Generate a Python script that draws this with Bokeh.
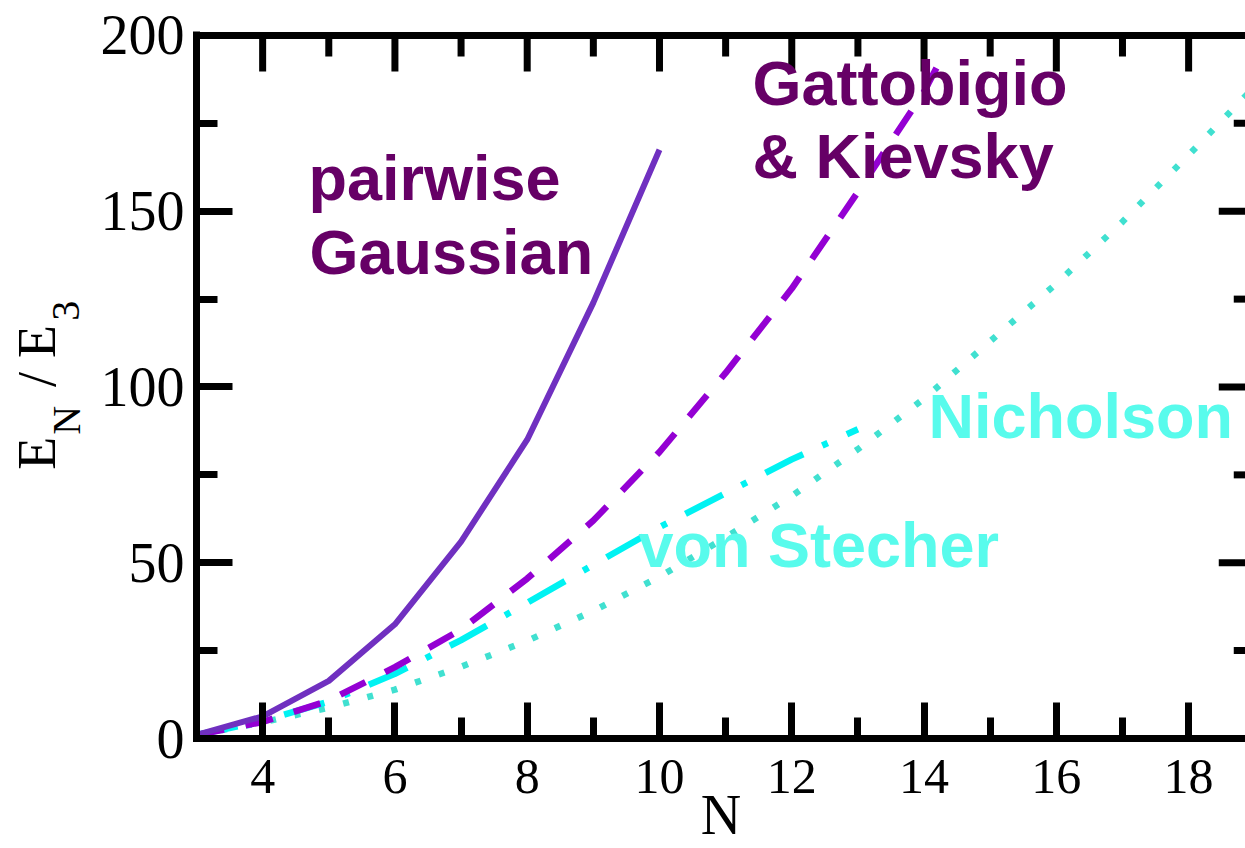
import math

from bokeh.embed import file_html
from bokeh.layouts import row
from bokeh.models import Label, Range1d, SingleIntervalTicker
from bokeh.plotting import figure
from bokeh.resources import INLINE

# ---------------------------------------------------------------- data
# E_N / E_3 as a function of the number of bosons N
n_pairwise = [3, 4, 5, 6, 7, 8, 9, 10]
e_pairwise = [1.0, 6.3, 16.4, 32.5, 56.0, 85.0, 124.0, 167.5]

n_gattobigio = [3, 4, 5, 6, 7, 8, 9, 10, 11, 12, 13, 14, 14.32]
e_gattobigio = [1.0, 4.7, 10.8, 20.3, 31.0, 45.5, 62.0, 81.5, 104.0, 128.0, 155.5, 184.0, 195.5]

n_stecher = [3, 4, 5, 6, 7, 8, 9, 10, 11, 12, 13]
e_stecher = [1.0, 5.0, 10.5, 18.4, 28.0, 38.6, 49.4, 60.1, 69.8, 79.4, 88.0]

n_nicholson = [3, 4, 5, 6, 7, 8, 9, 10, 11, 12, 13, 14, 15, 16, 17, 18, 19]
e_nicholson = [1.0, 4.6, 8.8, 13.9, 20.4, 27.8, 36.3, 46.0, 57.2, 69.0, 82.3,
               96.7, 113.0, 129.4, 147.0, 166.0, 185.5]

x_tick_step = 2
y_tick_step = 50
x_major_ticks = [4, 6, 8, 10, 12, 14, 16, 18]
x_minor_ticks = [5, 7, 9, 11, 13, 15, 17]
y_major_ticks = [50, 100, 150]
y_minor_ticks = [25, 75, 125, 175]

# ---------------------------------------------------------------- layout
W, H = 1245, 848
STRIP_W = 94                      # strip holding the vertical axis title
PLOT_W = W - STRIP_W
LEFT = 196 - STRIP_W              # border inside the main figure -> frame starts at x = 196
TOP, BOTTOM = 31, 108
N_MIN, N_AXIS_END, N_VIEW_END = 3, 19, 18.86
E_MIN, E_MAX = 0, 200
PX_PER_E = 705 / (E_MAX - E_MIN)
E_VIEW_TOP = E_MIN + (H - TOP - BOTTOM) / PX_PER_E
PX_PER_N = (PLOT_W - LEFT) / (N_VIEW_END - N_MIN)
FRAME_LEFT = STRIP_W + LEFT
FRAME_BOTTOM = H - BOTTOM

# Bokeh puts an "alphabetic" label baseline this far (in em) below its anchor
BASELINE_SHIFT = 0.35


def nx(px):
    """canvas x pixel -> N"""
    return N_MIN + (px - FRAME_LEFT) / PX_PER_N


def ey(py):
    """canvas y pixel -> E_N/E_3"""
    return E_MIN + (FRAME_BOTTOM - py) / PX_PER_E


AXIS_W = 7
MAJOR_IN, MINOR_IN = 36, 21

PAIRWISE_COLOR = "#7030c0"
GATTOBIGIO_COLOR = "#9400d3"
STECHER_COLOR = "#00f2f2"
NICHOLSON_COLOR = "#40e0d0"
LABEL_PURPLE = "#660066"
LABEL_CYAN = "#58fbec"

y_range = Range1d(E_MIN, E_VIEW_TOP)

p = figure(
    width=PLOT_W, height=H,
    x_range=Range1d(N_MIN, N_VIEW_END), y_range=y_range,
    output_backend="svg", toolbar_location=None,
    min_border_left=LEFT, min_border_right=0, min_border_top=TOP, min_border_bottom=BOTTOM,
    background_fill_color="white", border_fill_color="white", outline_line_color=None,
)
p.grid.visible = False


def style_axis(ax, label_size):
    ax.axis_line_width = AXIS_W
    ax.axis_line_color = "black"
    ax.major_tick_line_width = AXIS_W
    ax.minor_tick_line_width = AXIS_W
    ax.major_tick_in = MAJOR_IN
    ax.major_tick_out = 0
    ax.minor_tick_in = MINOR_IN
    ax.minor_tick_out = 0
    ax.major_label_text_font = "Liberation Serif"
    ax.major_label_text_font_size = label_size
    ax.major_label_text_color = "black"


xax = p.xaxis[0]
xax.ticker = SingleIntervalTicker(interval=x_tick_step, num_minor_ticks=2)
style_axis(xax, "50px")
xax.axis_line_cap = "square"
xax.major_label_standoff = 21
xax.axis_label = "N"
xax.axis_label_text_font = "Liberation Serif"
xax.axis_label_text_font_size = "56px"
xax.axis_label_text_font_style = "normal"
xax.axis_label_text_color = "black"
xax.axis_label_standoff = -12

yax = p.yaxis[0]
yax.ticker = SingleIntervalTicker(interval=y_tick_step, num_minor_ticks=2)
style_axis(yax, "56px")
yax.major_label_standoff = 12

# top edge: line plus inward ticks
p.segment(x0=[N_MIN], x1=[N_AXIS_END], y0=[E_MAX], y1=[E_MAX], line_color="black", line_width=AXIS_W)
p.segment(x0=x_major_ticks, x1=x_major_ticks, y0=[E_MAX] * len(x_major_ticks),
          y1=[E_MAX - MAJOR_IN / PX_PER_E] * len(x_major_ticks), line_color="black", line_width=AXIS_W)
p.segment(x0=x_minor_ticks, x1=x_minor_ticks, y0=[E_MAX] * len(x_minor_ticks),
          y1=[E_MAX - MINOR_IN / PX_PER_E] * len(x_minor_ticks), line_color="black", line_width=AXIS_W)

# right edge: inward ticks (its line sits just past the visible edge)
p.segment(x0=[N_AXIS_END - MAJOR_IN / PX_PER_N] * len(y_major_ticks), x1=[N_AXIS_END] * len(y_major_ticks),
          y0=y_major_ticks, y1=y_major_ticks, line_color="black", line_width=AXIS_W)
p.segment(x0=[N_AXIS_END - MINOR_IN / PX_PER_N] * len(y_minor_ticks), x1=[N_AXIS_END] * len(y_minor_ticks),
          y0=y_minor_ticks, y1=y_minor_ticks, line_color="black", line_width=AXIS_W)

# ---------------------------------------------------------------- curves
p.line(n_nicholson, e_nicholson, line_color=NICHOLSON_COLOR, line_width=6.5, line_dash="6 19")
p.line(n_stecher, e_stecher, line_color=STECHER_COLOR, line_width=6.5, line_dash="42 21 6 21")
p.line(n_gattobigio, e_gattobigio, line_color=GATTOBIGIO_COLOR, line_width=6.5, line_dash="28 22")
p.line(n_pairwise, e_pairwise, line_color=PAIRWISE_COLOR, line_width=6, line_join="round")


# ---------------------------------------------------------------- curve labels
def sans_label(text, px, baseline_py, color, size=63):
    p.add_layout(Label(
        x=nx(px), y=ey(baseline_py - BASELINE_SHIFT * size), text=text, text_color=color,
        text_font="Liberation Sans", text_font_style="bold", text_font_size=f"{size}px",
        text_align="left", text_baseline="alphabetic",
    ))


sans_label("pairwise", 308, 200, LABEL_PURPLE)
sans_label("Gaussian", 309, 274, LABEL_PURPLE)
sans_label("Gattobigio", 752, 105, LABEL_PURPLE)
sans_label("& Kievsky", 752, 178, LABEL_PURPLE)
sans_label("Nicholson", 928, 439, LABEL_CYAN)
sans_label("von Stecher", 638, 568, LABEL_CYAN)

# ---------------------------------------------------------------- vertical axis title E_N / E_3
# the strip shares the vertical scale of the main plot, so its labels sit in E units
strip = figure(
    width=STRIP_W, height=H, x_range=Range1d(0, STRIP_W), y_range=y_range,
    output_backend="svg", toolbar_location=None,
    min_border_left=0, min_border_right=0, min_border_top=TOP, min_border_bottom=BOTTOM,
    x_axis_type=None, y_axis_type=None,
    background_fill_color="white", border_fill_color="white", outline_line_color=None,
)
strip.grid.visible = False


def title_piece(text, center_px, center_py, size):
    # text reads bottom-to-top, centred on the given canvas point
    strip.add_layout(Label(
        x=center_px, y=ey(center_py), text=text, text_color="black",
        text_font="Liberation Serif", text_font_size=f"{size}px",
        text_align="center", text_baseline="middle", angle=math.pi / 2,
    ))


title_piece("E", 36, 454, 54)
title_piece("N", 66, 421, 40)
title_piece("/", 36, 380, 54)
title_piece("E", 36, 342, 54)
title_piece("3", 65, 311, 40)

open("out.html", "w").write(file_html(row(strip, p), INLINE))
